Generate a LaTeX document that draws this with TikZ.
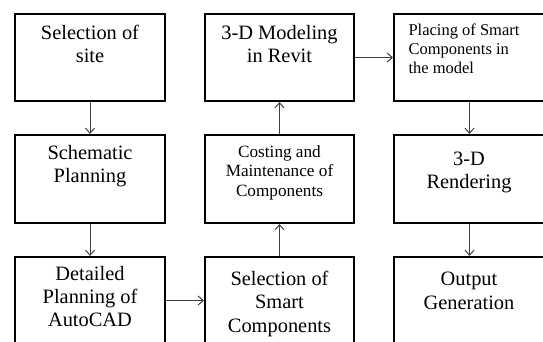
\documentclass[tikz,border=0pt]{standalone}
\usepackage{fontspec}
\setmainfont{Liberation Serif}
\usetikzlibrary{arrows.meta}
\begin{document}
\begin{tikzpicture}[x=1pt,y=-1pt,
  box/.style={draw=black,line width=2.2pt,rectangle,inner sep=0pt},
  lbl/.style={inner sep=0pt,align=center,anchor=base,font=\fontsize{20.4}{23.3}\selectfont},
  small/.style={inner sep=0pt,align=center,anchor=base,font=\fontsize{17.2}{19.6}\selectfont},
  lsmall/.style={inner sep=0pt,align=left,anchor=base west,font=\fontsize{16.5}{18.6}\selectfont},
  arr/.style={draw=black!75,line width=1pt,-{Straight Barb[length=5pt,width=9pt]}}]
\useasboundingbox (0,0) rectangle (543,342);
% boxes
\node[box,minimum width=150pt,minimum height=87pt] (a1) at (90,57.5) {};
\node[box,minimum width=150pt,minimum height=88pt] (a2) at (90,179) {};
\node[box,minimum width=150pt,minimum height=87pt] (a3) at (90,300.5) {};
\node[box,minimum width=149pt,minimum height=87pt] (b1) at (279.5,57.5) {};
\node[box,minimum width=149pt,minimum height=88pt] (b2) at (279.5,179) {};
\node[box,minimum width=149pt,minimum height=87pt] (b3) at (279.5,300.5) {};
\node[box,minimum width=151pt,minimum height=87pt] (c1) at (469.5,57.5) {};
\node[box,minimum width=151pt,minimum height=88pt] (c2) at (469.5,179) {};
\node[box,minimum width=151pt,minimum height=87pt] (c3) at (469.5,300.5) {};
% texts (anchored at the baseline of their last line)
\node[lbl] (ta1) at (90,62.6) {Selection of\\site};
\node[lbl] (ta2) at (90,182.6) {Schematic\\Planning};
\node[lbl] (ta3) at (90,326.8) {Detailed\\Planning of\\AutoCAD};
\node[lbl] (tb1) at (279.5,62.6) {3-D Modeling\\in Revit};
\node[small] (tb2) at (279.5,196.4) {Costing and\\Maintenance of\\Components};
\node[lbl] (tb3) at (279.5,332.2) {Selection of\\Smart\\Components};
\node[lsmall] (tc1) at (408.3,73.2) {Placing of Smart\\Components in\\the model};
\node[lbl] (tc2) at (469,188.3) {3-D\\Rendering};
\node[lbl] (tc3) at (469,309) {Output\\Generation};
% connectors
\draw[arr] (a1.south) -- (a2.north);
\draw[arr] (a2.south) -- (a3.north);
\draw[arr] (a3.east) -- (b3.west);
\draw[arr] (b3.north) -- (b2.south);
\draw[arr] (b2.north) -- (b1.south);
\draw[arr] (b1.east) -- (c1.west);
\draw[arr] (c1.south) -- (c2.north);
\draw[arr] (c2.south) -- (c3.north);
\end{tikzpicture}
\end{document}
